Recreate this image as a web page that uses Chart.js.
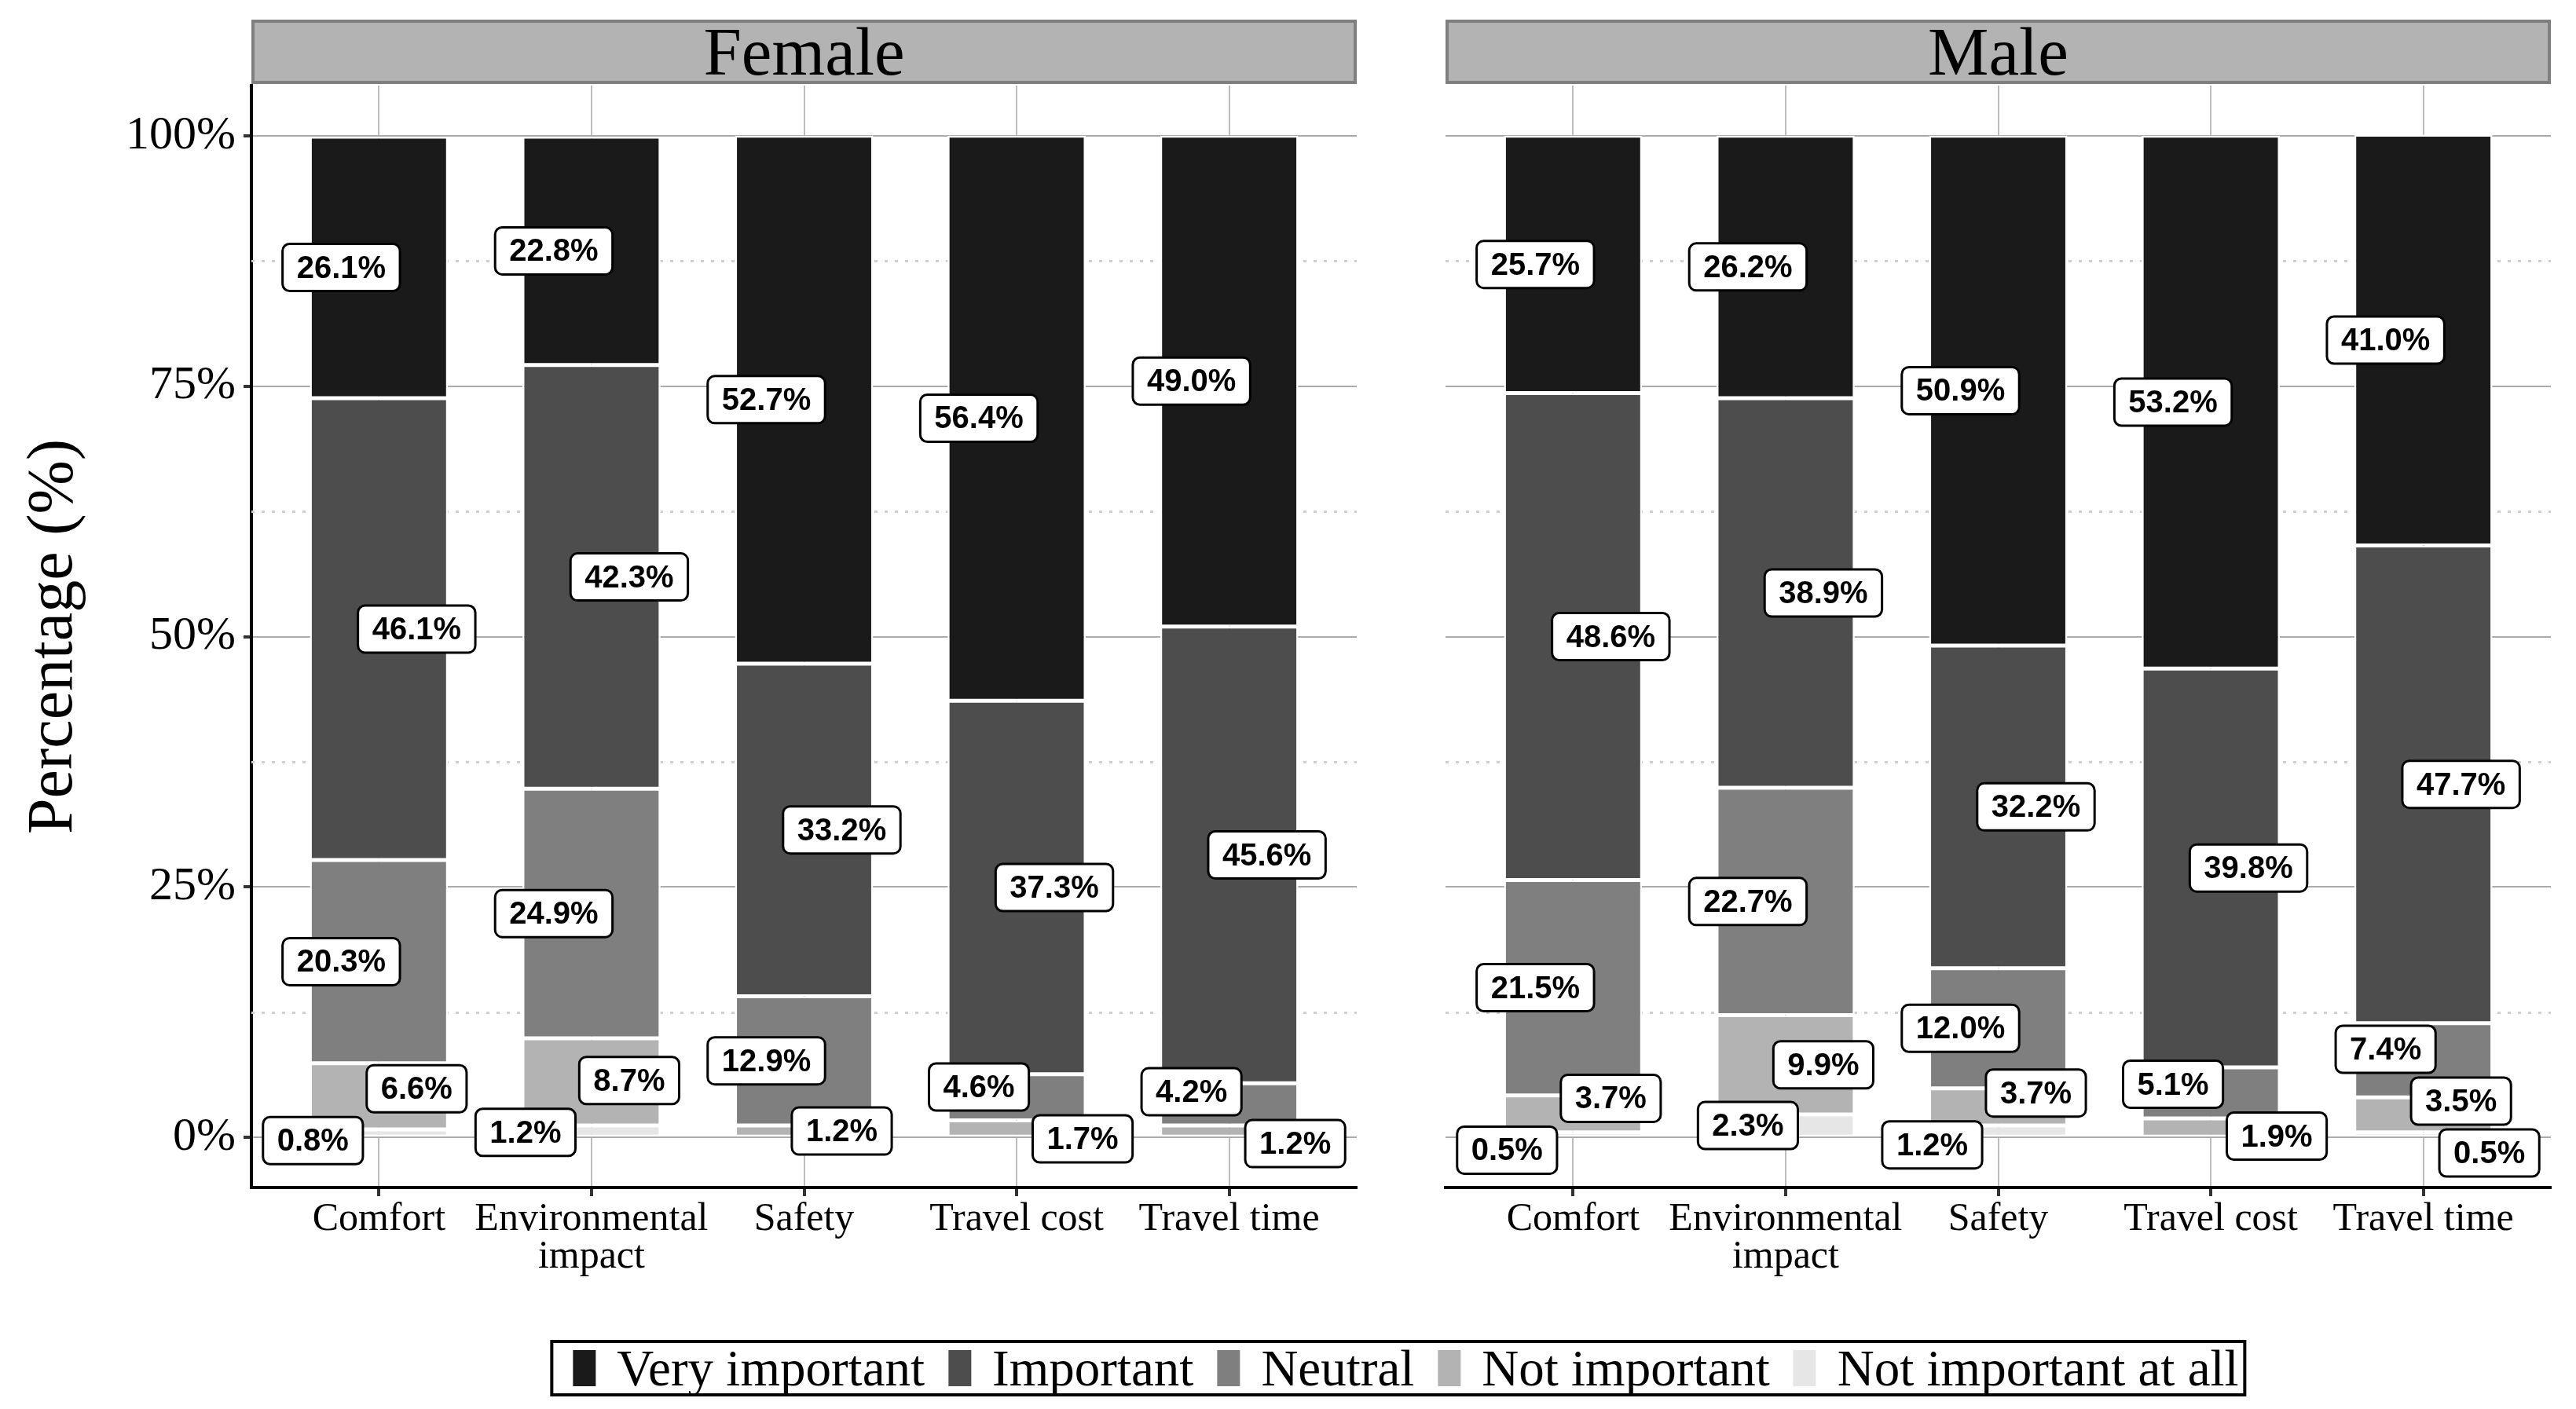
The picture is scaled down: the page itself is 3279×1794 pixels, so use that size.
<!DOCTYPE html>
<html>
<head>
<meta charset="utf-8">
<script src="https://cdn.jsdelivr.net/npm/chart.js@4.4.1/dist/chart.umd.min.js"></script>
<style>
html,body{margin:0;padding:0;background:#fff;}
#wrap{position:relative;width:3279px;height:1794px;overflow:hidden;background:#fff;}
#cF{position:absolute;left:0;top:0;}
#cM{position:absolute;left:1760px;top:0;}
#legend{position:absolute;top:1706px;left:1780px;transform:translateX(-50%);}
#legend .box{display:flex;align-items:center;border:4px solid #000;padding:0 6px 0 25px;height:64px;font-family:"Liberation Serif",serif;font-size:65px;line-height:1;white-space:nowrap;color:#000;}
#legend .item{display:flex;align-items:center;margin-right:30px;}
#legend .item:last-child{margin-right:0;}
#legend .sw{width:29px;height:46px;margin-right:27px;}
</style>
</head>
<body>
<div id="wrap">
  <canvas id="cF" width="1760" height="1690"></canvas>
  <canvas id="cM" width="1519" height="1690"></canvas>
  <div id="legend"><div class="box" id="legendBox"></div></div>
</div>
<script>
// ---------------- data ----------------
const groups = ['Female', 'Male'];
const categories = ['Comfort', 'Environmental impact', 'Safety', 'Travel cost', 'Travel time'];
const levels = ['Very important', 'Important', 'Neutral', 'Not important', 'Not important at all'];
const levelColors = ['#1a1a1a', '#4d4d4d', '#7f7f7f', '#b3b3b3', '#e6e6e6'];
const yTickValues = [0, 25, 50, 75, 100];

const femaleVeryImportant = [26.1, 22.8, 52.7, 56.4, 49.0];
const femaleImportant     = [46.1, 42.3, 33.2, 37.3, 45.6];
const femaleNeutral       = [20.3, 24.9, 12.9, 4.6, 4.2];
const femaleNotImportant  = [6.6, 8.7, 1.2, 1.7, 1.2];
const femaleNotAtAll      = [0.8, 1.2, 0, 0, 0];

const maleVeryImportant = [25.7, 26.2, 50.9, 53.2, 41.0];
const maleImportant     = [48.6, 38.9, 32.2, 39.8, 47.7];
const maleNeutral       = [21.5, 22.7, 12.0, 5.1, 7.4];
const maleNotImportant  = [3.7, 9.9, 3.7, 1.9, 3.5];
const maleNotAtAll      = [0.5, 2.3, 1.2, 0, 0.5];

const femaleSeries = [femaleVeryImportant, femaleImportant, femaleNeutral, femaleNotImportant, femaleNotAtAll];
const maleSeries   = [maleVeryImportant, maleImportant, maleNeutral, maleNotImportant, maleNotAtAll];

// ---------------- helpers ----------------
const SERIF = '"Liberation Serif", "Times New Roman", serif';
const SANS = '"Liberation Sans", Arial, sans-serif';

function wrapLabel(s) {
  if (s.length <= 12) return s;
  const words = s.split(' ');
  const lines = [];
  let cur = '';
  words.forEach(w => {
    if (cur && (cur + ' ' + w).length > 13) { lines.push(cur); cur = w; }
    else cur = cur ? cur + ' ' + w : w;
  });
  if (cur) lines.push(cur);
  return lines;
}

function roundRectPath(ctx, x, y, w, h, r) {
  ctx.beginPath();
  ctx.moveTo(x + r, y);
  ctx.lineTo(x + w - r, y);
  ctx.arcTo(x + w, y, x + w, y + r, r);
  ctx.lineTo(x + w, y + h - r);
  ctx.arcTo(x + w, y + h, x + w - r, y + h, r);
  ctx.lineTo(x + r, y + h);
  ctx.arcTo(x, y + h, x, y + h - r, r);
  ctx.lineTo(x, y + r);
  ctx.arcTo(x, y, x + r, y, r);
  ctx.closePath();
}

// facet strip
const stripPlugin = {
  id: 'strip',
  afterDraw(chart, args, opts) {
    const { ctx, chartArea } = chart;
    const x0 = chartArea.left, x1 = chartArea.right;
    const top = 25, h = 82;
    ctx.save();
    ctx.fillStyle = '#b3b3b3';
    ctx.fillRect(x0, top, x1 - x0, h);
    ctx.strokeStyle = '#7f7f7f';
    ctx.lineWidth = 4;
    ctx.strokeRect(x0 + 2, top + 2, x1 - x0 - 4, h - 4);
    ctx.fillStyle = '#000';
    ctx.font = '87px ' + SERIF;
    ctx.textAlign = 'center';
    ctx.textBaseline = 'alphabetic';
    ctx.fillText(opts.text, (x0 + x1) / 2, top + 70);
    ctx.restore();
  }
};

// dotted minor grid lines between major y ticks
const minorGridPlugin = {
  id: 'minorGrid',
  beforeDatasetsDraw(chart) {
    const { ctx, chartArea, scales } = chart;
    const ys = scales.y;
    ctx.save();
    ctx.strokeStyle = '#cfcfcf';
    ctx.lineWidth = 3;
    ctx.setLineDash([4, 9]);
    for (let k = 0; k < yTickValues.length - 1; k++) {
      const py = Math.round(ys.getPixelForValue((yTickValues[k] + yTickValues[k + 1]) / 2)) + 0.5;
      ctx.beginPath();
      ctx.moveTo(chartArea.left, py);
      ctx.lineTo(chartArea.right, py);
      ctx.stroke();
    }
    ctx.restore();
  }
};

function boxesOverlap(a, b, boxH) {
  return Math.abs(a.x - b.x) < (a.w + b.w) / 2 + 6 && Math.abs(a.y - b.y) < boxH + 6;
}

// repelled percentage labels
const labelPlugin = {
  id: 'repelLabels',
  afterDatasetsDraw(chart) {
    const { ctx, chartArea, scales } = chart;
    const fs = 40, boxH = 60, padX = 18, gap = 6;
    const zeroPx = scales.y.getPixelForValue(0);
    ctx.save();
    ctx.font = 'bold ' + fs + 'px ' + SANS;
    const n = chart.data.datasets[0].data.length;
    const all = [];
    for (let j = 0; j < n; j++) {
      const items = [];
      chart.data.datasets.forEach((ds, i) => {
        const v = ds.data[j].y;
        if (!v) return;
        const el = chart.getDatasetMeta(i).data[j];
        const cy = (el.y + el.base) / 2;
        const text = v.toFixed(1) + '%';
        const w = ctx.measureText(text).width + 2 * padX;
        items.push({ px: el.x, py: cy, y: cy, w, text });
      });
      items.sort((a, b) => b.py - a.py); // bottom first
      const minY = chartArea.top + boxH / 2 + 4;
      const maxY = chartArea.bottom - boxH / 2 - 14;
      const sep = boxH + gap;
      for (let it = 0; it < 400; it++) {
        for (let k = 0; k < items.length - 1; k++) {
          const a = items[k], b = items[k + 1];
          const d = a.y - b.y;
          if (d < sep) { const p = (sep - d) / 2; a.y += p; b.y -= p; }
        }
        items.forEach(o => { o.y = Math.min(maxY, Math.max(minY, o.y)); });
      }
      const m = items.length;
      const placedBefore = all.slice();
      items.forEach((o, k) => {
        const fromTop = m - 1 - k;
        const side = fromTop % 2 === 0 ? -1 : 1;
        const below = o.y > zeroPx - 8;
        const off = below ? 84 : 48;
        o.x = o.px + side * off;
        if (placedBefore.some(p => boxesOverlap(o, p, boxH))) {
          const alt = { x: o.px - side * off, y: o.y, w: o.w };
          if (!placedBefore.some(p => boxesOverlap(alt, p, boxH))) o.x = alt.x;
        }
        all.push(o);
      });
    }
    // leader segments
    ctx.strokeStyle = '#000';
    ctx.lineWidth = 3;
    all.forEach(o => {
      const bx = Math.min(Math.max(o.px, o.x - o.w / 2), o.x + o.w / 2);
      const by = Math.min(Math.max(o.py, o.y - boxH / 2), o.y + boxH / 2);
      const d = Math.hypot(bx - o.px, by - o.py);
      if (d > 24) {
        ctx.beginPath();
        ctx.moveTo(o.px, o.py);
        ctx.lineTo(bx, by);
        ctx.stroke();
      }
    });
    // boxes
    all.forEach(o => {
      roundRectPath(ctx, o.x - o.w / 2, o.y - boxH / 2, o.w, boxH, 9);
      ctx.fillStyle = '#fff';
      ctx.fill();
      ctx.lineWidth = 3;
      ctx.strokeStyle = '#000';
      ctx.stroke();
      ctx.fillStyle = '#000';
      ctx.textAlign = 'center';
      ctx.textBaseline = 'middle';
      ctx.fillText(o.text, o.x, o.y + 2);
    });
    ctx.restore();
  }
};

function makeChart(canvasId, series, groupName, isFirst) {
  // stack from bottom: Not important at all ... Very important
  const datasets = [];
  for (let li = levels.length - 1; li >= 0; li--) {
    datasets.push({
      label: levels[li],
      data: series[li].map((v, i) => ({ x: i + 1, y: v })),
      backgroundColor: levelColors[li],
      borderColor: '#ffffff',
      borderWidth: 2.5,
      borderSkipped: false,
      barPercentage: 0.65,
      categoryPercentage: 1.0
    });
  }
  const tickFontX = { family: SERIF, size: 50, lineHeight: 0.96 };
  return new Chart(document.getElementById(canvasId), {
    type: 'bar',
    data: { datasets },
    options: {
      responsive: false,
      animation: false,
      devicePixelRatio: 1,
      layout: { padding: { top: 109, right: isFirst ? 33 : 32, left: 0, bottom: 0 } },
      plugins: {
        legend: { display: false },
        tooltip: { enabled: false },
        strip: { text: groupName }
      },
      scales: {
        x: {
          type: 'linear',
          min: 0.4,
          max: 5.6,
          offset: false,
          stacked: true,
          afterBuildTicks: s => { s.ticks = categories.map((c, i) => ({ value: i + 1 })); },
          afterFit: s => { s.height = 178; },
          grid: { offset: false, color: '#bdbdbd', lineWidth: 2, tickColor: '#333', tickWidth: 4, tickLength: 11 },
          border: { display: true, color: '#000', width: 4 },
          ticks: {
            callback: v => wrapLabel(categories[v - 1]),
            font: tickFontX,
            color: '#000',
            padding: 6,
            maxRotation: 0,
            autoSkip: false
          }
        },
        y: {
          min: -5,
          max: 105,
          stacked: true,
          afterBuildTicks: s => { s.ticks = yTickValues.map(v => ({ value: v })); },
          afterFit: s => { s.width = isFirst ? 320 : 80; },
          grid: { color: '#ababab', lineWidth: 2, tickColor: '#333', tickWidth: 4, tickLength: 10, drawTicks: isFirst },
          border: { display: isFirst, color: '#000', width: 4 },
          ticks: {
            display: isFirst,
            callback: v => v + '%',
            font: { family: SERIF, size: 60 },
            color: '#000',
            padding: 10
          },
          title: {
            display: isFirst,
            text: 'Percentage (%)',
            font: { family: SERIF, size: 82 },
            color: '#000',
            padding: { top: 20, bottom: 0 }
          }
        }
      }
    },
    plugins: [stripPlugin, minorGridPlugin, labelPlugin]
  });
}

function buildLegend() {
  const box = document.getElementById('legendBox');
  levels.forEach((lv, i) => {
    const item = document.createElement('div');
    item.className = 'item';
    const sw = document.createElement('div');
    sw.className = 'sw';
    sw.style.background = levelColors[i];
    const tx = document.createElement('span');
    tx.textContent = lv;
    item.appendChild(sw);
    item.appendChild(tx);
    box.appendChild(item);
  });
}

function build() {
  buildLegend();
  makeChart('cF', femaleSeries, groups[0], true);
  makeChart('cM', maleSeries, groups[1], false);
}

const fontLoads = [
  document.fonts.load('60px "Liberation Serif"'),
  document.fonts.load('bold 40px "Liberation Sans"')
];
Promise.all(fontLoads).then(build, build);
</script>
</body>
</html>
